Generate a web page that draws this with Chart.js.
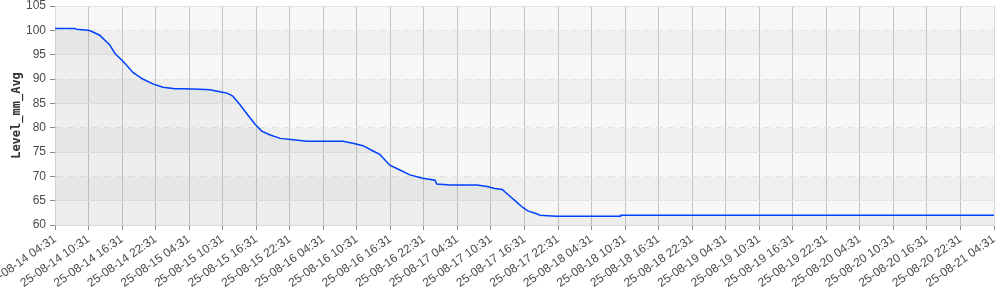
<!DOCTYPE html>
<html>
<head>
<meta charset="utf-8">
<script src="https://cdn.jsdelivr.net/npm/chart.js@4.4.1/dist/chart.umd.min.js"></script>
<style>
  html, body { margin: 0; padding: 0; background: #fff; }
  #wrap { width: 1000px; height: 290px; }
</style>
</head>
<body>
<div id="wrap"><canvas id="levelChart"></canvas></div>
<script>
// hours since 25-08-14 04:31
const hours = [
    0, 3.6, 3.8, 5.9, 6.3, 8.0, 9.8, 10.7, 12.2, 14.0, 15.7, 17.5, 19.3, 21.5,
    22.9, 25.9, 27.7, 29.5, 30.8, 31.8, 33.1, 34.5, 35.8, 37.0, 38.5, 40.3,
    42.6, 45.1, 51.5, 53.3, 55.1, 56.9, 58.1, 59.0, 59.9, 61.7, 63.5, 65.8,
    68.0, 68.3, 70.7, 75.5, 77.3, 78.7, 80.0, 81.4, 82.7, 83.7, 84.6, 85.9,
    86.8, 89.6, 101.1, 101.2, 168
];
const levelMmAvg = [
    100.4, 100.4, 100.2, 100.0, 99.9, 99.0, 97.0, 95.3, 93.6, 91.3, 90.0, 89.0, 88.3, 88.0,
    88.0, 87.9, 87.8, 87.4, 87.1, 86.5, 84.7, 82.6, 80.7, 79.3, 78.5, 77.8,
    77.5, 77.2, 77.2, 76.8, 76.3, 75.2, 74.5, 73.4, 72.3, 71.3, 70.3, 69.6,
    69.2, 68.4, 68.2, 68.2, 67.9, 67.5, 67.3, 65.9, 64.6, 63.6, 62.9, 62.4,
    62.0, 61.8, 61.8, 62.0, 62.0
];
const xTickLabels = [
    '25-08-14 04:31', '25-08-14 10:31', '25-08-14 16:31', '25-08-14 22:31',
    '25-08-15 04:31', '25-08-15 10:31', '25-08-15 16:31', '25-08-15 22:31',
    '25-08-16 04:31', '25-08-16 10:31', '25-08-16 16:31', '25-08-16 22:31',
    '25-08-17 04:31', '25-08-17 10:31', '25-08-17 16:31', '25-08-17 22:31',
    '25-08-18 04:31', '25-08-18 10:31', '25-08-18 16:31', '25-08-18 22:31',
    '25-08-19 04:31', '25-08-19 10:31', '25-08-19 16:31', '25-08-19 22:31',
    '25-08-20 04:31', '25-08-20 10:31', '25-08-20 16:31', '25-08-20 22:31',
    '25-08-21 04:31'
];
const xStep = 6;
const yMin = 60, yMax = 105, yStep = 5;

// alternating horizontal bands behind the plot
const bandPlugin = {
    id: 'bands',
    beforeDraw(chart) {
        const {ctx, chartArea: a, scales: {y}} = chart;
        ctx.save();
        for (let v = yMax; v > yMin; v -= yStep) {
            const top = y.getPixelForValue(v);
            const bottom = y.getPixelForValue(v - yStep);
            ctx.fillStyle = ((yMax - v) / yStep) % 2 === 0 ? '#f7f7f7' : '#efefef';
            ctx.fillRect(a.left, top, a.right - a.left, bottom - top);
        }
        ctx.restore();
    }
};

const ctx = document.getElementById('levelChart').getContext('2d');
new Chart(ctx, {
    type: 'line',
    data: {
        datasets: [{
            label: 'Level_mm_Avg',
            data: hours.map((h, i) => ({x: h, y: levelMmAvg[i]})),
            borderColor: '#0040ff',
            backgroundColor: 'rgba(0,0,0,0.035)',
            borderWidth: 1.5,
            pointRadius: 0,
            fill: 'start',
            tension: 0
        }]
    },
    options: {
        responsive: true,
        maintainAspectRatio: false,
        animation: false,
        layout: { padding: { top: 0, right: 6, bottom: 0, left: 0 } },
        plugins: {
            legend: { display: false },
            tooltip: { enabled: false }
        },
        scales: {
            x: {
                type: 'linear',
                min: 0,
                max: (xTickLabels.length - 1) * xStep,
                afterBuildTicks: (scale) => {
                    scale.ticks = xTickLabels.map((_, i) => ({ value: i * xStep }));
                },
                afterFit: (scale) => {
                    scale.height = 65;
                    scale.paddingLeft = 0;
                    scale.paddingRight = 0;
                },
                ticks: {
                    autoSkip: false,
                    minRotation: 35,
                    maxRotation: 35,
                    padding: 2,
                    color: '#4a4a4a',
                    font: { family: 'Liberation Sans', size: 12 },
                    callback: (v) => xTickLabels[Math.round(v / xStep)]
                },
                grid: {
                    color: (c) => c.tick && c.tick.value === (xTickLabels.length - 1) * xStep ? '#d8d8d8' : '#c4c4c4',
                    tickColor: '#8a8a8a',
                    tickLength: 5
                },
                border: { color: '#d8d8d8' }
            },
            y: {
                min: yMin,
                max: yMax,
                afterFit: (scale) => {
                    scale.width = 55;
                    scale.paddingTop = 6;
                    scale.paddingBottom = 0;
                },
                ticks: {
                    stepSize: yStep,
                    padding: 4,
                    color: '#4a4a4a',
                    font: { family: 'Liberation Sans', size: 12 }
                },
                title: {
                    display: true,
                    text: 'Level_mm_Avg',
                    color: '#333',
                    padding: { top: 10, bottom: 0 },
                    font: { family: 'DejaVu Sans Mono', size: 12, weight: 'bold' }
                },
                grid: {
                    color: (c) => c.tick && c.tick.value % 10 === 0 ? '#e2e2e2' : '#e4e4e4',
                    tickColor: '#8a8a8a',
                    tickLength: 5
                },
                border: {
                    color: '#d8d8d8',
                    dash: (c) => c.tick && c.tick.value % 10 === 0 && c.tick.value !== yMin ? [6, 6] : []
                }
            }
        }
    },
    plugins: [bandPlugin]
});
</script>
</body>
</html>
